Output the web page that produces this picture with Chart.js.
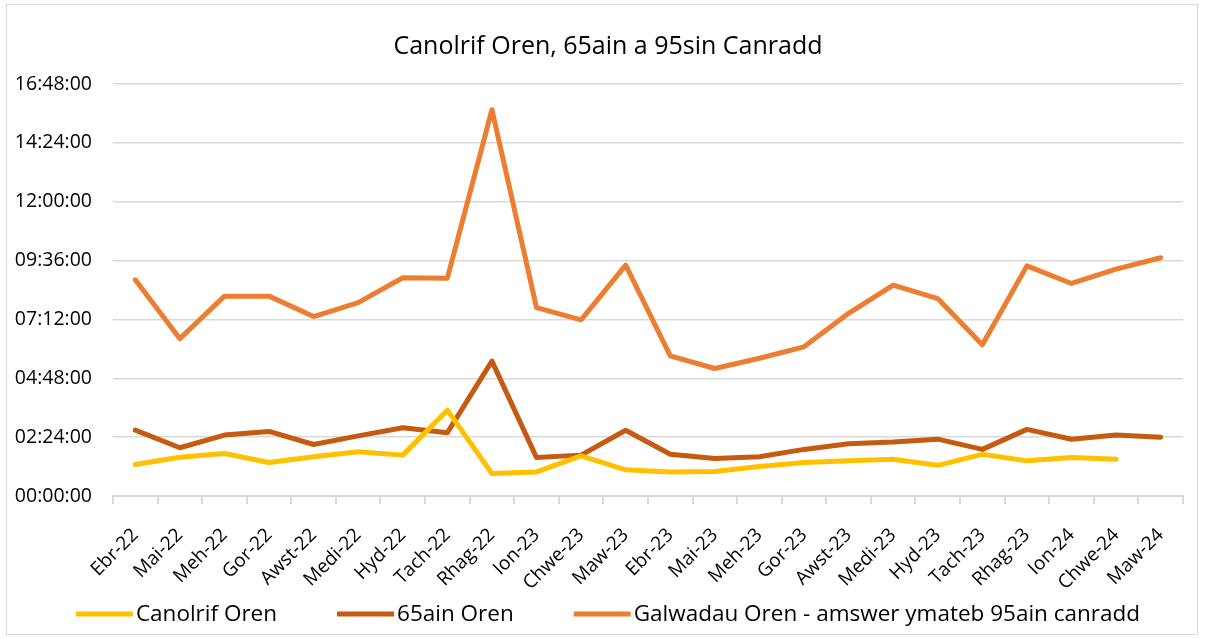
<!DOCTYPE html>
<html>
<head>
<meta charset="utf-8">
<script src="https://cdn.jsdelivr.net/npm/chart.js@4"></script>
<style>
  html, body { margin: 0; padding: 0; background: #fff; }
  #wrap {
    position: absolute; left: 6px; top: 4px; width: 1192px; height: 631px;
    border: 1px solid #d9d9d9; box-sizing: border-box;
  }
  canvas { display: block; }
</style>
</head>
<body>
<div id="wrap"><canvas id="chart"></canvas></div>
<script>
// months (Welsh)
const labels = ['Ebr-22', 'Mai-22', 'Meh-22', 'Gor-22', 'Awst-22', 'Medi-22', 'Hyd-22', 'Tach-22',
    'Rhag-22', 'Ion-23', 'Chwe-23', 'Maw-23', 'Ebr-23', 'Mai-23', 'Meh-23', 'Gor-23', 'Awst-23',
    'Medi-23', 'Hyd-23', 'Tach-23', 'Rhag-23', 'Ion-24', 'Chwe-24', 'Maw-24'];

// values in minutes
const canolrif = [77, 95, 104, 82, 96, 108, 100, 210, 55, 59, 98, 64, 59, 60, 72, 82, 86, 90, 75, 102, 86, 94, 90, null];
const ain65 = [161, 118, 149, 158, 126, 147, 167, 155, 330, 94, 100, 161, 102, 92, 96, 114, 128, 132, 139, 114, 163, 139, 149, 144];
const sin95 = [529, 385, 489, 489, 439, 473, 534, 533, 945, 461, 431, 565, 343, 312, 337, 365, 447, 516, 483, 370, 563, 520, 555, 583];

const yMax = 1008;
const yStep = 144;
const titleText = 'Canolrif Oren, 65ain a 95sin Canradd';

function fmtTime(mins) {
    const h = Math.floor(mins / 60);
    const m = Math.round(mins % 60);
    return String(h).padStart(2, '0') + ':' + String(m).padStart(2, '0') + ':00';
}

const font = "'Open Sans', 'Noto Sans', sans-serif";
Chart.defaults.font.family = font;
Chart.defaults.color = '#000';

const canvas = document.getElementById('chart');
canvas.width = 1190;
canvas.height = 629;

function makeSet(label, data, color) {
    return {
        label: label,
        data: data,
        borderColor: color,
        backgroundColor: color,
        borderWidth: 5,
        pointRadius: 0,
        tension: 0,
        borderCapStyle: 'round',
        borderJoinStyle: 'round',
        spanGaps: false
    };
}

// title + legend drawn Excel-style (line, tight text, wide gaps)
const excelBits = {
    id: 'excelBits',
    afterDraw(chart) {
        const ctx = chart.ctx;
        ctx.save();
        ctx.fillStyle = '#000';
        ctx.textBaseline = 'middle';
        ctx.textAlign = 'center';
        ctx.font = '25px ' + font;
        ctx.fillText(titleText, chart.width / 2 + 6, 42);

        ctx.font = '22.5px ' + font;
        ctx.textAlign = 'left';
        const sets = chart.data.datasets;
        const lineW = 57, gapText = 3, gapItem = 60;
        const widths = sets.map(d => ctx.measureText(d.label).width);
        let total = gapItem * (sets.length - 1);
        widths.forEach(w => { total += lineW + gapText + w; });
        let x = chart.width / 2 + 6 - total / 2;
        const y = 609;
        sets.forEach((d, i) => {
            ctx.strokeStyle = d.borderColor;
            ctx.lineWidth = 5;
            ctx.beginPath();
            ctx.moveTo(x, y);
            ctx.lineTo(x + lineW, y);
            ctx.stroke();
            x += lineW + gapText;
            ctx.fillText(d.label, x, y + 1);
            x += widths[i] + gapItem;
        });
        ctx.restore();
    }
};

new Chart(canvas, {
    type: 'line',
    data: {
        labels: labels,
        datasets: [
            makeSet('Canolrif Oren', canolrif, '#FFC000'),
            makeSet('65ain Oren', ain65, '#C55A11'),
            makeSet('Galwadau Oren - amswer ymateb 95ain canradd', sin95, '#ED7D31')
        ]
    },
    plugins: [excelBits],
    options: {
        responsive: false,
        animation: false,
        layout: { padding: { left: 2, right: 10, top: 79, bottom: 43 } },
        plugins: {
            title: { display: false },
            legend: { display: false },
            tooltip: { enabled: false }
        },
        scales: {
            x: {
                offset: true,
                afterFit: s => { s.height = 95; },
                grid: {
                    offset: true,
                    drawOnChartArea: false,
                    drawTicks: true,
                    tickLength: 8,
                    color: '#d9d9d9',
                    lineWidth: 2
                },
                border: { color: '#d9d9d9', width: 2 },
                ticks: {
                    minRotation: 45,
                    maxRotation: 45,
                    autoSkip: false,
                    font: { size: 19 },
                    padding: 20
                }
            },
            y: {
                min: 0,
                max: yMax,
                afterFit: s => { s.width = 104; },
                grid: { color: '#d9d9d9', lineWidth: 1.5, drawTicks: false },
                border: { display: false },
                ticks: {
                    stepSize: yStep,
                    callback: v => fmtTime(v),
                    font: { size: 19.5 },
                    padding: 21
                }
            }
        }
    }
});
</script>
</body>
</html>
